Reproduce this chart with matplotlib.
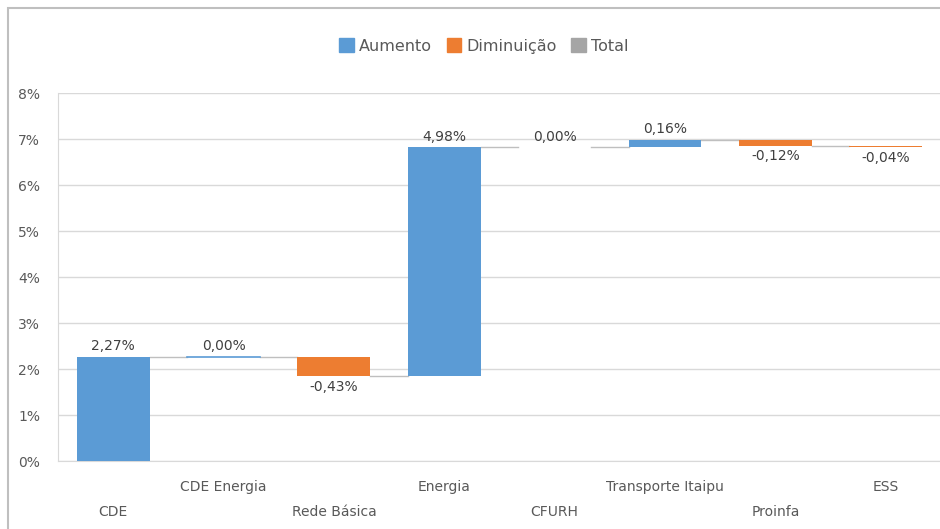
import matplotlib.pyplot as plt
from matplotlib.patches import Patch, Rectangle
from matplotlib.ticker import FuncFormatter

plt.rcParams['font.family'] = ['DejaVu Sans']

# Componentes do reajuste (pontos percentuais)
categorias = ['CDE', 'CDE Energia', 'Rede Básica', 'Energia', 'CFURH',
              'Transporte Itaipu', 'Proinfa', 'ESS']
variacao = [2.27, 0.00, -0.43, 4.98, 0.00, 0.16, -0.12, -0.04]
rotulos = ['2,27%', '0,00%', '-0,43%', '4,98%', '0,00%', '0,16%', '-0,12%', '-0,04%']

azul = '#5B9BD5'
laranja = '#ED7D31'
cinza = '#A5A5A5'

fig = plt.figure(figsize=(9.4, 5.29), dpi=100)
ax = fig.add_axes([0.0617, 0.1285, 0.9393, 0.6955])

largura = 0.66
acumulado = 0.0
for i, v in enumerate(variacao):
    base = acumulado if v >= 0 else acumulado + v
    cor = azul if v >= 0 else laranja
    if v == 0 and categorias[i] == 'CDE Energia':
        ax.plot([i - largura / 2, i + largura / 2], [acumulado, acumulado], color=azul, lw=1.2, zorder=3)
    elif v != 0:
        ax.bar(i, abs(v), bottom=base, width=largura, color=cor, zorder=3)
    topo = acumulado + v
    # rotulo de dados
    if v >= 0:
        ax.text(i, max(acumulado, topo) + 0.08, rotulos[i], ha='center', va='bottom',
                fontsize=10, color='#404040')
    else:
        ax.text(i, topo - 0.08, rotulos[i], ha='center', va='top',
                fontsize=10, color='#404040')
    acumulado = topo
    # linha de conexao
    if i < len(variacao) - 1:
        ax.plot([i + largura / 2, i + 1 - largura / 2], [acumulado, acumulado],
                color='#BFBFBF', lw=1, zorder=2)

ax.set_xlim(-0.5, len(categorias) - 0.5)
ax.set_ylim(0, 8)
ax.set_yticks(range(0, 9))
ax.yaxis.set_major_formatter(FuncFormatter(lambda y, _: f'{int(y)}%'))
ax.tick_params(axis='y', length=0, labelsize=10, labelcolor='#595959', pad=13)
ax.grid(axis='y', color='#D9D9D9', lw=1, zorder=0)
ax.set_axisbelow(True)

ax.set_xticks(range(len(categorias)))
ax.set_xticklabels([])
ax.tick_params(axis='x', length=0)
for i, nome in enumerate(categorias):
    y = -0.57 if i % 2 == 1 else -1.1
    ax.text(i, y, nome, ha='center', va='center', fontsize=10, color='#595959')

for lado in ['top', 'right']:
    ax.spines[lado].set_visible(False)
ax.spines['left'].set_color('#D9D9D9')
ax.spines['bottom'].set_color('#D9D9D9')

handles = [Patch(color=azul, label='Aumento'),
           Patch(color=laranja, label='Diminuição'),
           Patch(color=cinza, label='Total')]
fig.legend(handles=handles, loc='center', bbox_to_anchor=(0.515, 0.913), ncol=3, frameon=False,
           fontsize=11.5, handlelength=0.9, handleheight=0.9, handletextpad=0.35, columnspacing=0.9,
           labelcolor='#595959')

fig.patches.append(Rectangle((0.008, -0.1), 1.1, 1.084, transform=fig.transFigure,
                             fill=False, edgecolor='#BFBFBF', lw=1.5))

fig.savefig('out.png', dpi=100)
